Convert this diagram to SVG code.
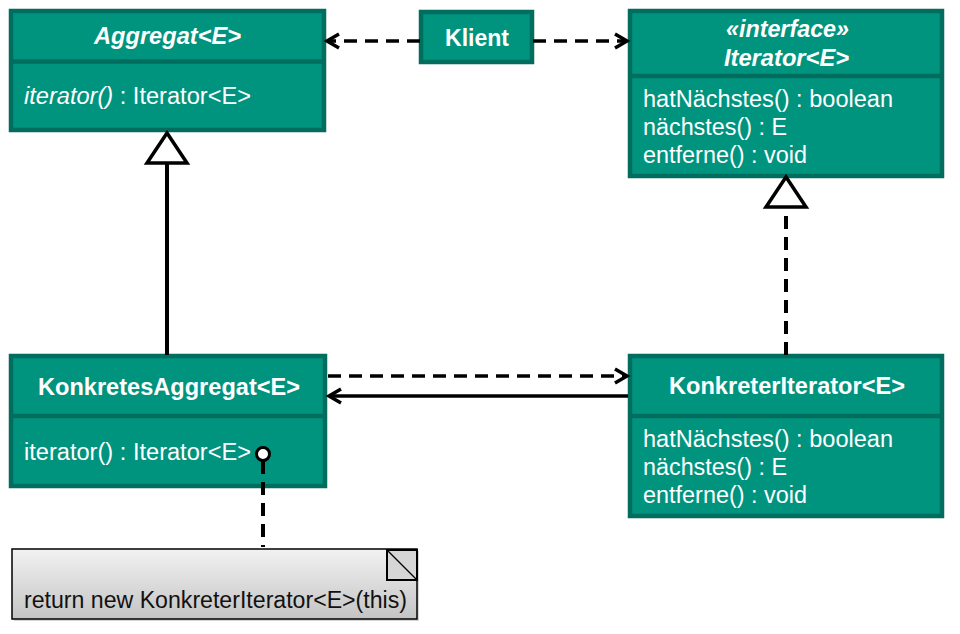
<svg xmlns="http://www.w3.org/2000/svg" width="960" height="634" viewBox="0 0 960 634">
<style>
.box{fill:#00947f;stroke:#006d5e;stroke-width:4.5}
.div{stroke:#006d5e;stroke-width:4.5}
.t{font-family:"Liberation Sans",Arial,sans-serif;fill:#ffffff}
.title{font-size:23px;font-weight:bold;text-anchor:middle}
.m{font-size:23px}
.ln{fill:none;stroke:#000;stroke-width:3.5}
.thick{stroke-width:4}
.dash{stroke-dasharray:13 8}
.note{font-family:"Liberation Sans",Arial,sans-serif;font-size:23px;fill:#111}
</style>
<defs>
<marker id="open" markerUnits="userSpaceOnUse" orient="auto" markerWidth="20" markerHeight="20" refX="0" refY="0" viewBox="-15 -10 20 20" overflow="visible">
<path d="M-12,-7 L0,0 L-12,7" fill="none" stroke="#000" stroke-width="3.5" stroke-linejoin="miter"/>
</marker>
<marker id="tri" markerUnits="userSpaceOnUse" orient="auto" markerWidth="40" markerHeight="50" refX="0" refY="0" viewBox="-35 -25 40 50" overflow="visible">
<path d="M0,0 L-30,-20 L-30,20 Z" fill="#fff" stroke="#000" stroke-width="3.5" stroke-dasharray="none"/>
</marker>
<linearGradient id="ng" x1="0" y1="0" x2="0" y2="1">
<stop offset="0" stop-color="#f2f2f2"/>
<stop offset="1" stop-color="#c4c4c4"/>
</linearGradient>
</defs>

<g id="aggregat">
<rect class="box" x="11" y="11" width="313" height="119"/>
<line class="div" x1="11" y1="61.5" x2="324" y2="61.5"/>
<text class="t title" x="167.5" y="44" font-style="italic" textLength="147" lengthAdjust="spacingAndGlyphs">Aggregat&lt;E&gt;</text>
<text class="t m" x="24" y="104" textLength="227" lengthAdjust="spacingAndGlyphs"><tspan font-style="italic">iterator()</tspan> : Iterator&lt;E&gt;</text>
</g>

<g id="klient">
<rect class="box" x="421" y="12" width="111" height="50"/>
<text class="t title" x="477" y="46" textLength="64" lengthAdjust="spacingAndGlyphs">Klient</text>
</g>

<g id="iterator">
<rect class="box" x="630" y="11" width="312" height="165"/>
<line class="div" x1="630" y1="76" x2="942" y2="76"/>
<text class="t title" x="787.5" y="37" font-style="italic" textLength="123" lengthAdjust="spacingAndGlyphs">«interface»</text>
<text class="t title" x="786.5" y="66" font-style="italic" textLength="125" lengthAdjust="spacingAndGlyphs">Iterator&lt;E&gt;</text>
<text class="t m" x="643" y="107" textLength="250" lengthAdjust="spacingAndGlyphs">hatNächstes() : boolean</text>
<text class="t m" x="643" y="135" textLength="144" lengthAdjust="spacingAndGlyphs">nächstes() : E</text>
<text class="t m" x="643" y="163" textLength="164" lengthAdjust="spacingAndGlyphs">entferne() : void</text>
</g>

<g id="konkretesAggregat">
<rect class="box" x="11" y="356" width="314" height="130"/>
<line class="div" x1="11" y1="416" x2="325" y2="416"/>
<text class="t title" x="169" y="395" textLength="262" lengthAdjust="spacingAndGlyphs">KonkretesAggregat&lt;E&gt;</text>
<text class="t m" x="24" y="460" textLength="227" lengthAdjust="spacingAndGlyphs">iterator() : Iterator&lt;E&gt;</text>
</g>

<g id="konkreterIterator">
<rect class="box" x="630" y="356" width="312" height="160"/>
<line class="div" x1="630" y1="416" x2="942" y2="416"/>
<text class="t title" x="787" y="394" textLength="236" lengthAdjust="spacingAndGlyphs">KonkreterIterator&lt;E&gt;</text>
<text class="t m" x="643" y="447" textLength="250" lengthAdjust="spacingAndGlyphs">hatNächstes() : boolean</text>
<text class="t m" x="643" y="475" textLength="144" lengthAdjust="spacingAndGlyphs">nächstes() : E</text>
<text class="t m" x="643" y="503" textLength="164" lengthAdjust="spacingAndGlyphs">entferne() : void</text>
</g>

<g id="note">
<rect x="14" y="551" width="405" height="70" fill="#999" opacity="0.4"/>
<rect x="12" y="549" width="405" height="70" fill="url(#ng)" stroke="#000" stroke-width="1.5"/>
<rect x="387" y="550" width="30" height="30" fill="#d6d6d6" stroke="#000" stroke-width="2"/>
<line x1="387" y1="550" x2="417" y2="580" stroke="#000" stroke-width="1.2"/>
<text class="note" x="24" y="608" textLength="383" lengthAdjust="spacingAndGlyphs">return new KonkreterIterator&lt;E&gt;(this)</text>
</g>

<g id="connectors">
<line class="ln dash" x1="420" y1="41" x2="327" y2="41" marker-end="url(#open)"/>
<line class="ln dash" x1="533" y1="41" x2="627" y2="41" marker-end="url(#open)"/>
<line class="ln thick" x1="167" y1="355" x2="167" y2="133" marker-end="url(#tri)"/>
<line class="ln thick dash" x1="786" y1="355" x2="786" y2="177" marker-end="url(#tri)"/>
<line class="ln dash" x1="328" y1="376" x2="627" y2="376" marker-end="url(#open)"/>
<line class="ln" x1="628" y1="396" x2="329" y2="396" marker-end="url(#open)"/>
<line class="ln thick dash" x1="263" y1="461" x2="263" y2="547"/>
<circle cx="263" cy="454" r="6.5" fill="#fff" stroke="#000" stroke-width="3"/>
</g>
</svg>
